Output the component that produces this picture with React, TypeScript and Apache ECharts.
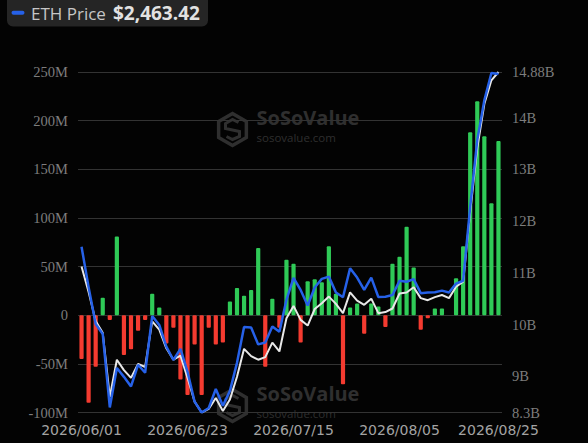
import React, { useEffect, useRef } from "react";
import * as echarts from "echarts";

// Trading-day categories
const dates = [
  "2026/06/01","2026/06/02","2026/06/03","2026/06/04","2026/06/05",
  "2026/06/08","2026/06/09","2026/06/10","2026/06/11","2026/06/12",
  "2026/06/15","2026/06/16","2026/06/17","2026/06/18","2026/06/22",
  "2026/06/23","2026/06/24","2026/06/25","2026/06/26","2026/06/29",
  "2026/06/30","2026/07/01","2026/07/02","2026/07/06","2026/07/07",
  "2026/07/08","2026/07/09","2026/07/10","2026/07/13","2026/07/14",
  "2026/07/15","2026/07/16","2026/07/17","2026/07/20","2026/07/21",
  "2026/07/22","2026/07/23","2026/07/24","2026/07/27","2026/07/28",
  "2026/07/29","2026/07/30","2026/07/31","2026/08/03","2026/08/04",
  "2026/08/05","2026/08/06","2026/08/07","2026/08/10","2026/08/11",
  "2026/08/12","2026/08/13","2026/08/14","2026/08/17","2026/08/18",
  "2026/08/19","2026/08/20","2026/08/21","2026/08/24","2026/08/25",
];

// Daily net inflow, millions USD
const netFlowM = [
  -45, -90, -53, 18, -5, 81, -41, -35, -16, -5,
  22, 8, -29, -13, -66, -82, -30, -82, -13, -30,
  -28, 14, 28, 20, 26, 69, -53, 17, -13, 57,
  53, -28, 35, 37, 34, 71, 22, -71, 8, 12,
  -19, 12, 9, -12, 53, 60, 91, 49, -15, -3,
  7, 7, 0, 38, 71, 188, 220, 184, 115, 179,
];

// Total net assets, billions USD (right axis)
const totalNetAssetsB = [
  11.12, 10.63, 10.07, 9.84, 8.6, 9.32, 9.12, 8.97, 9.24, 9.18,
  10.06, 9.9, 9.54, 9.32, 9.4, 8.97, 8.51, 8.3, 8.37, 8.58,
  8.33, 8.55, 8.99, 9.53, 9.39, 9.32, 9.37, 9.65, 9.48, 10.12,
  10.36, 10.09, 9.98, 10.3, 10.41, 10.54, 10.4, 10.22, 10.62, 10.46,
  10.38, 10.5, 10.22, 10.24, 10.31, 10.6, 10.62, 10.72, 10.51, 10.47,
  10.53, 10.57, 10.51, 10.73, 10.83, 12.17, 13.41, 14.26, 14.72, 14.88,
];

// ETH price, USD (hidden axis)
const ethPrice = [
  1921, 1794, 1678, 1647, 1416, 1540, 1512, 1482, 1550, 1525,
  1703, 1675, 1607, 1565, 1600, 1528, 1434, 1400, 1414, 1474,
  1421, 1468, 1556, 1669, 1667, 1614, 1620, 1670, 1654, 1754,
  1823, 1785, 1736, 1793, 1820, 1827, 1777, 1762, 1853, 1824,
  1785, 1824, 1763, 1764, 1769, 1814, 1811, 1819, 1775, 1777,
  1778, 1783, 1777, 1805, 1814, 2046, 2256, 2381, 2467, 2463.42,
];

const flowAxis = { min: -100, max: 250, step: 50 };
const assetsAxis = { min: 8.3, max: 14.88 };
const priceAxis = { min: 1400, max: 2470 };
const legendLabel = "ETH Price";
const legendValue = "$2,463.42";
const labelEvery = 15;

const GREEN = "#2fca57";
const RED = "#f43b30";
const BLUE = "#2661e8";
const WHITE = "#e8e8e8";
const GRID = "#333333";
const WM = "#2f2f2f";

function watermark(cx: number, cy: number) {
  const r = 16;
  const h = r * Math.sqrt(3) / 2;
  const hex = [
    [cx, cy - r], [cx + h, cy - r / 2], [cx + h, cy + r / 2],
    [cx, cy + r], [cx - h, cy + r / 2], [cx - h, cy - r / 2],
  ];
  return [
    { type: "polygon", z: 0, shape: { points: hex }, style: { fill: "none", stroke: WM, lineWidth: 3.5 } },
    {
      type: "polyline", z: 0,
      shape: { points: [[cx + 6, cy - 7], [cx, cy - 10], [cx - 7, cy - 6], [cx - 7, cy - 1], [cx + 7, cy + 2], [cx + 7, cy + 7], [cx, cy + 10], [cx - 6, cy + 7]] },
      style: { fill: "none", stroke: WM, lineWidth: 3 },
    },
    {
      type: "text", z: 0, x: cx + 24, y: cy - 12.5,
      style: { text: "SoSoValue", fill: WM, font: 'bold 20px "Open Sans"', textVerticalAlign: "middle", verticalAlign: "middle" },
    },
    {
      type: "text", z: 0, x: cx + 24, y: cy + 7.5,
      style: { text: "sosovalue.com", fill: WM, font: '11.5px "Open Sans"', textVerticalAlign: "middle", verticalAlign: "middle" },
    },
  ];
}

export default function App() {
  const ref = useRef<HTMLDivElement>(null);
  useEffect(() => {
    document.body.style.margin = "0";
    document.body.style.background = "#030303";
    const chart = echarts.init(ref.current!, null, { renderer: "svg" });
    const barData = netFlowM.map((v) => ({ value: v, itemStyle: { color: v >= 0 ? GREEN : RED } }));
    chart.setOption({
      animation: false,
      backgroundColor: "#030303",
      grid: { left: 78, right: 86, top: 72, bottom: 30.5, containLabel: false },
      xAxis: {
        type: "category",
        data: dates,
        boundaryGap: true,
        axisLine: { show: false, onZero: false },
        axisTick: { show: false },
        splitLine: { show: false },
        axisLabel: {
          color: "#a3a3a3",
          fontSize: 14,
          fontFamily: "DejaVu Sans",
          margin: 10,
          interval: (i: number) => i % labelEvery === 0 || i === dates.length - 1,
        },
      },
      yAxis: [
        {
          type: "value",
          min: flowAxis.min,
          max: flowAxis.max,
          interval: flowAxis.step,
          position: "left",
          axisLine: { show: false },
          axisTick: { show: false },
          splitLine: { show: true, lineStyle: { color: GRID, width: 1 } },
          axisLabel: {
            color: "#7d7d7d",
            fontSize: 14.5,
            fontFamily: "Liberation Serif",
            margin: 10,
            formatter: (v: number) => (v === 0 ? "0" : v + "M"),
          },
        },
        {
          type: "value",
          min: assetsAxis.min,
          max: assetsAxis.max,
          position: "right",
          axisLine: { show: false },
          axisTick: { show: false },
          splitLine: { show: false },
          axisLabel: {
            color: "#7d7d7d",
            fontSize: 14.5,
            fontFamily: "Liberation Serif",
            margin: 10,
            formatter: (v: number) => +v.toFixed(2) + "B",
          },
        },
        {
          type: "value",
          min: priceAxis.min,
          max: priceAxis.max,
          show: false,
          splitLine: { show: false },
        },
      ],
      series: [
        {
          type: "bar",
          yAxisIndex: 0,
          data: barData,
          barWidth: 4.2,
          itemStyle: { borderRadius: 1 },
          z: 2,
        },
        {
          type: "line",
          yAxisIndex: 1,
          data: totalNetAssetsB,
          symbol: "none",
          lineStyle: { color: WHITE, width: 2 },
          z: 3,
        },
        {
          type: "line",
          yAxisIndex: 2,
          data: ethPrice,
          symbol: "none",
          lineStyle: { color: BLUE, width: 2.5 },
          z: 4,
        },
      ],
      graphic: [
        ...watermark(232.5, 129.5),
        ...watermark(232.5, 405.5),
        { type: "rect", z: 10, shape: { x: 7, y: -10, width: 201, height: 36.5, r: 6 }, style: { fill: "#252525" } },
        { type: "rect", z: 11, shape: { x: 11.5, y: 10.7, width: 13, height: 4, r: 2 }, style: { fill: BLUE } },
        {
          type: "text", z: 11, x: 31, y: 13,
          style: { text: legendLabel, fill: "#c6c6c6", font: '17px "Open Sans"', textVerticalAlign: "middle", verticalAlign: "middle" },
        },
        {
          type: "text", z: 11, x: 113, y: 13,
          style: { text: legendValue, fill: "#e2e2e2", font: 'bold 19px "Open Sans"', textVerticalAlign: "middle", verticalAlign: "middle" },
        },
      ],
    });
    return () => chart.dispose();
  }, []);
  return (
    <div
      ref={ref}
      style={{ position: "fixed", left: 0, top: 0, width: 588, height: 443, background: "#030303" }}
    />
  );
}
